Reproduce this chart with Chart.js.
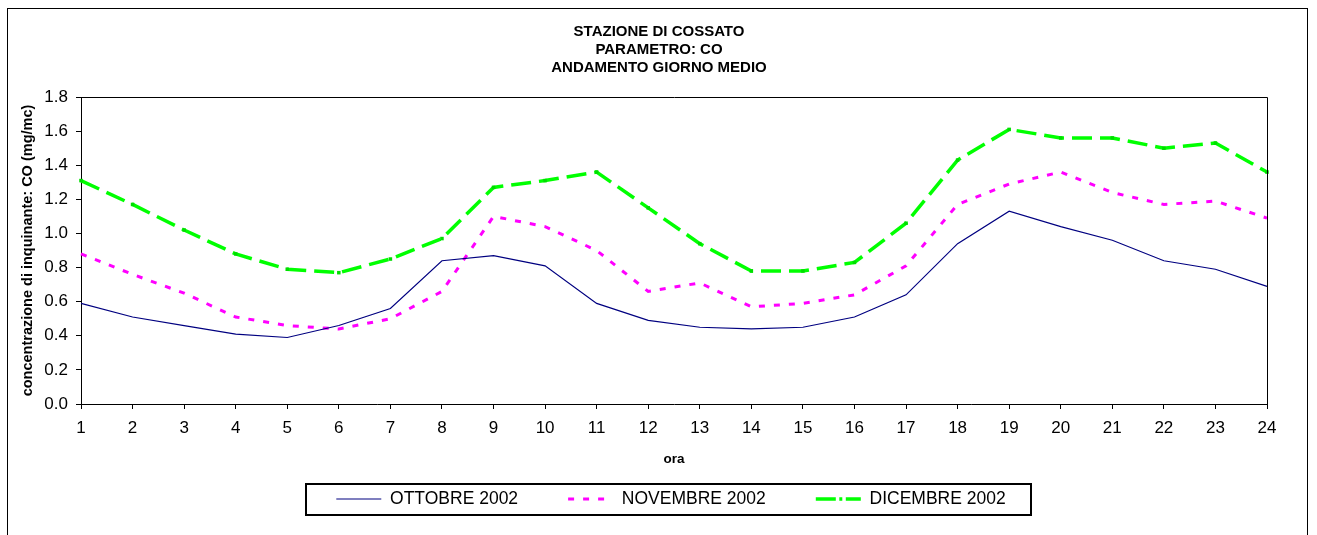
<!DOCTYPE html>
<html>
<head>
<meta charset="utf-8">
<script src="https://cdn.jsdelivr.net/npm/chart.js@4/dist/chart.umd.min.js"></script>
<style>
html,body{margin:0;padding:0;background:#fff;}
#c{display:block;}
</style>
</head>
<body>
<canvas id="c" width="1317" height="535"></canvas>
<script>
// ---- data ----
const hours = ['1','2','3','4','5','6','7','8','9','10','11','12','13','14','15','16','17','18','19','20','21','22','23','24'];
const titleLines = ['STAZIONE DI COSSATO', 'PARAMETRO: CO', 'ANDAMENTO GIORNO MEDIO'];
const yAxisTitle = 'concentrazione di inquinante: CO (mg/mc)';
const xAxisTitle = 'ora';
const seriesNames = ['OTTOBRE 2002', 'NOVEMBRE 2002', 'DICEMBRE 2002'];
const ottobre  = [0.59,0.51,0.46,0.41,0.39,0.46,0.56,0.84,0.87,0.81,0.59,0.49,0.45,0.44,0.45,0.51,0.64,0.94,1.13,1.04,0.96,0.84,0.79,0.69];
const novembre = [0.88,0.76,0.65,0.51,0.46,0.44,0.50,0.66,1.10,1.04,0.90,0.66,0.71,0.57,0.59,0.64,0.81,1.17,1.29,1.36,1.24,1.17,1.19,1.09];
const dicembre = [1.31,1.17,1.02,0.88,0.79,0.77,0.85,0.97,1.27,1.31,1.36,1.15,0.94,0.78,0.78,0.83,1.06,1.43,1.61,1.56,1.56,1.50,1.53,1.36];
const yMin = 0, yMax = 1.8, yStep = 0.2;

Chart.defaults.font.family = "'Liberation Sans', Arial, sans-serif";
Chart.defaults.color = '#000';

const LEGEND_FONT = 17.5;
const LEGEND_PAD = 50;

const framePlugin = {
  id: 'frame',
  beforeDraw(chart) {
    const ctx = chart.ctx;
    ctx.save();
    ctx.fillStyle = '#fff';
    ctx.fillRect(0, 0, chart.width, chart.height);
    ctx.restore();
  },
  afterLayout(chart) {
    const lg = chart.legend;
    if (lg) {
      const dx = 671 - (lg.left + lg.right) / 2;
      lg.left += dx; lg.right += dx;
      lg.top = 499 - LEGEND_PAD - LEGEND_FONT / 2;
      lg.bottom = lg.top + LEGEND_PAD + LEGEND_FONT + 20;
      lg.height = lg.bottom - lg.top;
    }
    const t = chart.titleBlock;
    if (t) {
      const tdx = 659 - (t.left + t.right) / 2;
      t.left += tdx; t.right += tdx;
    }
  },
  afterDraw(chart) {
    const ctx = chart.ctx;
    const a = chart.chartArea;
    ctx.save();
    ctx.strokeStyle = '#000';
    ctx.lineWidth = 1;
    // outer frame
    ctx.strokeRect(7.5, 8.5, 1300, 700);
    // plot area top & right
    ctx.beginPath();
    ctx.moveTo(Math.round(a.left) + 0.5, Math.round(a.top) + 0.5);
    ctx.lineTo(Math.round(a.right) + 0.5, Math.round(a.top) + 0.5);
    ctx.lineTo(Math.round(a.right) + 0.5, Math.round(a.bottom) + 0.5);
    ctx.stroke();
    // legend frame
    const lg = chart.legend;
    if (lg && lg.lineWidths) {
      const lw = lg.lineWidths[0];
      const start = (lg.left + LEGEND_PAD + lg.right - lw) / 2;
      const end = start + lw - LEGEND_PAD;
      const cy = lg.top + LEGEND_PAD + LEGEND_FONT / 2;
      ctx.lineWidth = 2;
      ctx.strokeRect(Math.round(start - 30), Math.round(cy - 15.5), Math.round(end - start + 56), 31);
    }
    ctx.restore();
  }
};

const legendDash = [[], [6, 9], [20, 3.5, 3, 3.5]];

new Chart(document.getElementById('c'), {
  type: 'line',
  data: {
    labels: hours,
    datasets: [
      {
        label: seriesNames[0],
        data: ottobre,
        borderColor: '#000080',
        backgroundColor: '#000080',
        borderWidth: 1.2,
        pointRadius: 0,
        tension: 0
      },
      {
        label: seriesNames[1],
        data: novembre,
        borderColor: '#ff00ff',
        backgroundColor: '#ff00ff',
        borderWidth: 3,
        borderDash: [6, 9],
        pointRadius: 0,
        tension: 0
      },
      {
        label: seriesNames[2],
        data: dicembre,
        borderColor: '#00ff00',
        backgroundColor: '#00ff00',
        borderWidth: 3.5,
        borderDash: [20, 8],
        pointStyle: 'rect',
        pointRadius: 2.5,
        pointBorderWidth: 0,
        pointBackgroundColor: '#00dd00',
        tension: 0
      }
    ]
  },
  options: {
    responsive: false,
    animation: false,
    events: [],
    layout: { padding: { left: 0, right: 50, top: 0, bottom: 21 } },
    plugins: {
      title: {
        display: true,
        text: titleLines,
        font: { size: 15, weight: 'bold', lineHeight: 1.2 },
        color: '#000',
        padding: { top: 23, bottom: 20 }
      },
      legend: {
        display: true,
        position: 'bottom',
        maxHeight: 40,
        labels: {
          font: { size: LEGEND_FONT },
          color: '#000',
          padding: LEGEND_PAD,
          usePointStyle: true,
          pointStyle: 'line',
          pointStyleWidth: 45,
          generateLabels(chart) {
            const items = Chart.defaults.plugins.legend.labels.generateLabels(chart);
            items.forEach((it, i) => {
              const ds = chart.data.datasets[it.datasetIndex];
              it.pointStyle = 'line';
              it.strokeStyle = ds.borderColor;
              it.fillStyle = ds.borderColor;
              it.lineWidth = ds.borderWidth;
              it.lineDash = legendDash[i] || [];
            });
            return items;
          }
        }
      },
      tooltip: { enabled: false }
    },
    scales: {
      x: {
        type: 'category',
        offset: false,
        afterFit(scale) { scale.height = 70; },
        grid: { drawOnChartArea: false, drawTicks: true, tickLength: 5, color: '#000' },
        border: { display: true, color: '#000', width: 1 },
        ticks: { autoSkip: false, maxRotation: 0, padding: 9, font: { size: 17 }, color: '#000' },
        title: { display: true, text: xAxisTitle, font: { size: 13.5, weight: 'bold' }, color: '#000', padding: { top: 0, bottom: 7 } }
      },
      y: {
        min: yMin,
        max: yMax,
        afterFit(scale) { scale.width = 81; },
        grid: { drawOnChartArea: false, drawTicks: true, tickLength: 5, color: '#000' },
        border: { display: true, color: '#000', width: 1 },
        ticks: { stepSize: yStep, padding: 8, font: { size: 17 }, color: '#000', callback: v => Number(v).toFixed(1) },
        title: { display: true, text: yAxisTitle, font: { size: 14.5, weight: 'bold' }, color: '#000', padding: { top: 19, bottom: 0 } }
      }
    }
  },
  plugins: [framePlugin]
});
</script>
</body>
</html>
